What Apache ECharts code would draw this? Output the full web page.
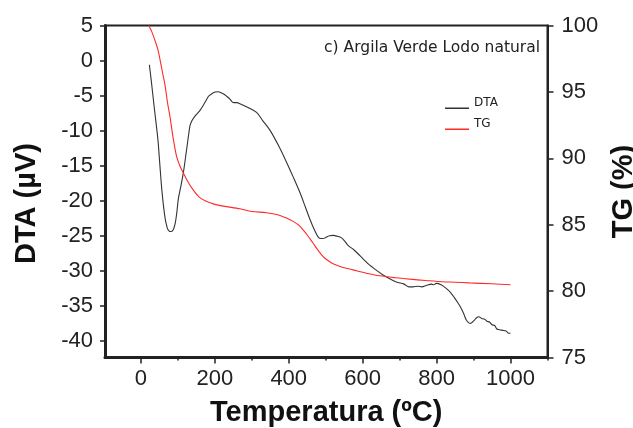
<!DOCTYPE html>
<html>
<head>
<meta charset="utf-8">
<script src="https://cdn.jsdelivr.net/npm/echarts@6/dist/echarts.min.js"></script>
<style>html,body{margin:0;padding:0;background:#fff;}#c{width:633px;height:428px;}</style>
</head>
<body>
<div id="c"></div>
<script>
// Temperature (ºC) and DTA (µV) readings
const dtaTemp = [23, 28, 36, 46, 51, 57, 65, 71, 76, 82, 88, 93, 97, 101.5, 108, 115, 123, 131, 133, 138, 147, 160, 172, 183, 190, 201, 210, 217, 225, 232, 241, 247, 252, 260, 268, 290, 313, 330, 350, 372, 394, 412, 430, 445, 457, 469, 480, 487, 493, 500, 510, 520, 530, 543, 552, 561, 576, 592, 605, 619, 637, 655, 672, 691, 712, 725, 736, 750, 760, 772, 786, 792, 799, 812, 826, 838, 849, 858, 867, 874, 880, 886, 891, 897, 903, 908, 914, 922, 930, 936, 943, 950, 957, 963, 970, 979, 988, 995, 1000];
const dtaValues = [-0.6, -2.8, -6.6, -11.2, -14.6, -18.6, -22.3, -23.8, -24.3, -24.4, -24.1, -23.2, -21.8, -19.7, -18.0, -16.0, -13.0, -9.9, -9.3, -8.6, -7.9, -7.1, -6.1, -5.1, -4.8, -4.5, -4.45, -4.6, -4.8, -5.1, -5.5, -5.9, -6.0, -6.0, -6.15, -6.7, -7.4, -8.6, -10.0, -12.1, -14.5, -16.6, -18.8, -20.9, -22.6, -24.1, -25.2, -25.4, -25.4, -25.25, -25.0, -24.95, -25.05, -25.3, -25.8, -26.4, -27.0, -27.8, -28.5, -29.2, -29.9, -30.6, -31.1, -31.6, -31.9, -32.3, -32.3, -32.2, -32.3, -32.1, -31.9, -32.0, -31.8, -32.0, -32.5, -33.1, -33.9, -34.6, -35.4, -36.2, -37.0, -37.4, -37.5, -37.3, -37.0, -36.7, -36.55, -36.8, -36.9, -37.2, -37.3, -37.7, -37.8, -38.3, -38.4, -38.5, -38.6, -38.9, -38.9];
// Temperature (ºC) and TG (%) readings
const tgTemp = [21, 23, 30, 39, 46, 52, 59, 66, 72, 79, 88, 97, 106, 115, 128, 142, 157, 174, 198, 223, 268, 300, 340, 370, 394, 412, 430, 448, 466, 480, 493, 506, 520, 545, 574, 610, 646, 690, 727, 770, 817, 850, 889, 950, 1000];
const tgValues = [100.0, 99.9, 99.5, 98.8, 98.2, 97.4, 96.4, 95.4, 94.2, 93.1, 91.4, 90.1, 89.4, 88.9, 88.2, 87.6, 87.1, 86.8, 86.55, 86.4, 86.2, 86.0, 85.9, 85.75, 85.5, 85.25, 84.9, 84.3, 83.6, 83.05, 82.6, 82.3, 82.06, 81.8, 81.6, 81.35, 81.15, 81.0, 80.9, 80.8, 80.7, 80.67, 80.62, 80.55, 80.48];
// Tick labels
const tempTicks = [0, 200, 400, 600, 800, 1000];
const tempMinorTicks = [100, 300, 500, 700, 900, 1100];
const dtaTicks = [-40, -35, -30, -25, -20, -15, -10, -5, 0, 5];
const seriesNames = ['DTA', 'TG'];
const annotation = 'c) Argila Verde Lodo natural';

const dtaData = dtaTemp.map((t, i) => [t, dtaValues[i]]);
const tgData = tgTemp.map((t, i) => [t, tgValues[i]]);

const ink = '#222';
const dtaColor = '#333';
const tgColor = '#ff2a2a';
const font = 'Liberation Sans, Arial, sans-serif';
const legendIcon = 'path://M0,0L0.01,0L0.01,0.01L0,0.01Z M0,10.6L24,10.6L24,12L0,12Z';

const chart = echarts.init(document.getElementById('c'), null, {renderer: 'canvas'});
chart.setOption({
  animation: false,
  backgroundColor: '#fff',
  grid: {left: 105, right: 85.5, top: 25.5, bottom: 70.5, show: true, borderColor: ink, borderWidth: 2, outerBoundsMode: 'none'},
  legend: {
    orient: 'vertical', left: 440, top: 92, itemWidth: 24, itemHeight: 12, itemGap: 9,
    textStyle: {fontSize: 12, fontFamily: 'DejaVu Sans', color: ink},
    itemStyle: {borderWidth: 0},
    data: [
      {name: seriesNames[0], icon: legendIcon, itemStyle: {color: dtaColor, borderWidth: 0}},
      {name: seriesNames[1], icon: legendIcon, itemStyle: {color: tgColor, borderWidth: 0}}
    ]
  },
  graphic: [{
    type: 'text', x: 540, y: 48,
    style: {text: annotation, align: 'right', verticalAlign: 'middle', fontSize: 15.5, fontFamily: 'DejaVu Sans', fill: ink}
  }],
  xAxis: [{
    type: 'value', min: -97, max: 1100, position: 'bottom',
    axisLine: {onZero: false, lineStyle: {color: ink, width: 3}},
    axisTick: {customValues: tempTicks, length: 6, lineStyle: {color: ink, width: 1.5}},
    axisLabel: {customValues: tempTicks, fontSize: 22, color: ink, fontFamily: font, margin: 10, formatter: v => String(v)},
    splitLine: {show: false},
    name: 'Temperatura (ºC)', nameLocation: 'middle', nameGap: 41,
    nameTextStyle: {fontSize: 29, fontWeight: 'bold', color: '#111', fontFamily: font}
  }, {
    type: 'value', min: -97, max: 1100, position: 'bottom',
    axisLine: {show: false, onZero: false},
    axisTick: {customValues: tempMinorTicks, length: 3, lineStyle: {color: ink, width: 1.5}},
    axisLabel: {show: false}, splitLine: {show: false}
  }],
  yAxis: [{
    type: 'value', min: -42.37, max: 5, position: 'left',
    axisLine: {show: true, onZero: false, lineStyle: {color: ink, width: 3}},
    axisTick: {show: true, customValues: dtaTicks, length: 5, lineStyle: {color: ink, width: 1.5}},
    axisLabel: {customValues: dtaTicks, fontSize: 22, color: ink, fontFamily: font, margin: 12, formatter: v => String(v)},
    splitLine: {show: false},
    name: 'DTA (µV)', nameLocation: 'middle', nameGap: 64,
    nameTextStyle: {fontSize: 29, fontWeight: 'bold', color: '#111', fontFamily: font, padding: [0, 24, 0, 0]}
  }, {
    type: 'value', min: 75, max: 100, interval: 5, position: 'right',
    axisLine: {show: true, onZero: false, lineStyle: {color: ink, width: 2}},
    axisTick: {show: true, length: 6, lineStyle: {color: ink, width: 1.5}},
    axisLabel: {fontSize: 22, color: ink, fontFamily: font, margin: 14},
    splitLine: {show: false},
    name: 'TG (%)', nameLocation: 'middle', nameGap: 53,
    nameTextStyle: {fontSize: 29, fontWeight: 'bold', color: '#111', fontFamily: font}
  }],
  series: [{
    name: seriesNames[0], type: 'line', xAxisIndex: 0, yAxisIndex: 0, data: dtaData,
    showSymbol: false, smooth: 0.3, lineStyle: {color: dtaColor, width: 1.1}, itemStyle: {color: dtaColor}
  }, {
    name: seriesNames[1], type: 'line', xAxisIndex: 0, yAxisIndex: 1, data: tgData,
    showSymbol: false, smooth: 0.3, lineStyle: {color: tgColor, width: 1.1}, itemStyle: {color: tgColor}
  }]
});
</script>
</body>
</html>
